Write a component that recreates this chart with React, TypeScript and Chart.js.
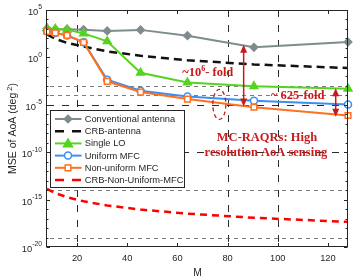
import React, { useEffect, useRef } from 'react';
import { Chart, registerables } from 'chart.js';

Chart.register(...registerables);

// ---------- data ----------
const M_VALUES = [8, 11.3, 16, 22.6, 32, 45.3, 64, 90.5, 128];
const CONVENTIONAL = [1050, 950, 950, 850, 620, 800, 195, 11.5, 42];
const CRB_ANTENNA = [270, 90, 34, 14, 4.3, 1.5, 0.5, 0.18, 0.075];
const SINGLE_LO = [1250, 1000, 850, 340, 50, 0.024, 0.0022, 0.0009, 0.0005];
const UNIFORM_MFC = [560, 380, 210, 39, 0.0044, 3e-4, 7.6e-5, 2.6e-5, 1.05e-5];
const NONUNIFORM_MFC = [560, 380, 210, 39, 0.003, 2.2e-4, 4e-5, 5.5e-6, 7.5e-7];
const CRB_NONUNIFORM = [1.35e-14, 4.9e-15, 1.8e-15, 6.6e-16, 2.4e-16, 8.9e-17, 3.3e-17, 1.2e-17, 4.5e-18];
const SERIES_NAMES = [
  'Conventional antenna',
  'CRB-antenna',
  'Single LO',
  'Uniform MFC',
  'Non-uniform MFC',
  'CRB-Non-Uniform-MFC',
];
const X_TICKS = [20, 40, 60, 80, 100, 120];
const Y_LABEL_EXPONENTS = [5, 0, -5, -10, -15, -20];
const X_LABEL = 'M';
const Y_LABEL = 'MSE of AoA (deg';
const GRID_X_DASHED = [20, 80, 100];
const GRID_Y_DASHED = [1e-5, 1e-10];
const GRID_Y_DOTTED = [1e-3, 1e-4, 1e-14, 1e-19];
const TEXT_FOLD_1 = ['~10', '6', '- fold'];
const TEXT_FOLD_2 = '~ 625-fold';
const TEXT_NOTE = ['MC-RAQRs: High', 'resolution AoA sensing'];

// ---------- styles ----------
const GRAY = '#7f8c8d';
const BLACK = '#111111';
const GREEN = '#55d41f';
const BLUE = '#3c8ff0';
const ORANGE = '#ff7020';
const RED = '#ff0000';
const ANN = '#c81a1a';
const SANS = '"Liberation Sans", Arial, sans-serif';
const SERIF = '"Liberation Serif", "Times New Roman", serif';
const AX = '#262626';

const SERIES = [
  { data: CONVENTIONAL, color: GRAY, fill: GRAY, dash: [] as number[], width: 2, style: 'rectRot', r: 3.8 },
  { data: CRB_ANTENNA, color: BLACK, fill: BLACK, dash: [8, 5], width: 2.5, style: 'none', r: 0 },
  { data: SINGLE_LO, color: GREEN, fill: GREEN, dash: [] as number[], width: 2, style: 'triangle', r: 4.5 },
  { data: UNIFORM_MFC, color: BLUE, fill: '#ffffff', dash: [] as number[], width: 2, style: 'circle', r: 3.5 },
  { data: NONUNIFORM_MFC, color: ORANGE, fill: '#ffffff', dash: [] as number[], width: 2, style: 'rect', r: 4 },
  { data: CRB_NONUNIFORM, color: RED, fill: RED, dash: [7, 5], width: 2.5, style: 'none', r: 0 },
];

function drawMarker(ctx: CanvasRenderingContext2D, style: string, x: number, y: number, r: number, stroke: string, fill: string) {
  ctx.save();
  ctx.setLineDash([]);
  ctx.lineWidth = 1.5;
  ctx.strokeStyle = stroke;
  ctx.fillStyle = fill;
  ctx.beginPath();
  if (style === 'rectRot') {
    ctx.moveTo(x, y - r); ctx.lineTo(x + r, y); ctx.lineTo(x, y + r); ctx.lineTo(x - r, y); ctx.closePath();
  } else if (style === 'triangle') {
    ctx.moveTo(x, y - r); ctx.lineTo(x + r, y + r * 0.75); ctx.lineTo(x - r, y + r * 0.75); ctx.closePath();
  } else if (style === 'circle') {
    ctx.arc(x, y, r, 0, Math.PI * 2);
  } else if (style === 'rect') {
    const h = r * Math.SQRT1_2;
    ctx.rect(x - h, y - h, 2 * h, 2 * h);
  } else {
    ctx.restore();
    return;
  }
  ctx.fill();
  ctx.stroke();
  ctx.restore();
}

function arrow(ctx: CanvasRenderingContext2D, x: number, y1: number, y2: number) {
  const hw = 3.5, hl = 8;
  ctx.save();
  ctx.setLineDash([]);
  ctx.strokeStyle = ANN;
  ctx.fillStyle = ANN;
  ctx.lineWidth = 1.5;
  ctx.beginPath();
  ctx.moveTo(x, y1 + hl - 1);
  ctx.lineTo(x, y2 - hl + 1);
  ctx.stroke();
  ctx.beginPath();
  ctx.moveTo(x, y1); ctx.lineTo(x + hw, y1 + hl); ctx.lineTo(x - hw, y1 + hl); ctx.closePath(); ctx.fill();
  ctx.beginPath();
  ctx.moveTo(x, y2); ctx.lineTo(x + hw, y2 - hl); ctx.lineTo(x - hw, y2 - hl); ctx.closePath(); ctx.fill();
  ctx.restore();
}

const matlabPlugin = {
  id: 'matlabAxes',
  beforeDatasetsDraw(chart: any) {
    const { ctx, chartArea: a } = chart;
    const x = chart.scales.x, y = chart.scales.y;
    ctx.save();
    ctx.lineWidth = 1;
    ctx.strokeStyle = 'rgba(20,20,20,0.9)';
    ctx.setLineDash([7, 8]);
    for (const v of GRID_X_DASHED) {
      const px = Math.round(x.getPixelForValue(v)) + 0.5;
      ctx.beginPath(); ctx.moveTo(px, a.top); ctx.lineTo(px, a.bottom); ctx.stroke();
    }
    for (const v of GRID_Y_DASHED) {
      const py = Math.round(y.getPixelForValue(v)) + 0.5;
      ctx.beginPath(); ctx.moveTo(a.left, py); ctx.lineTo(a.right, py); ctx.stroke();
    }
    ctx.strokeStyle = 'rgba(80,80,80,0.75)';
    ctx.setLineDash([4, 4]);
    for (const v of GRID_Y_DOTTED) {
      const py = Math.round(y.getPixelForValue(v)) + 0.5;
      ctx.beginPath(); ctx.moveTo(a.left + 3, py); ctx.lineTo(a.right, py); ctx.stroke();
    }
    ctx.restore();
  },
  afterDatasetsDraw(chart: any) {
    const { ctx, chartArea: a } = chart;
    const x = chart.scales.x, y = chart.scales.y;
    ctx.save();

    // ---- annotations ----
    arrow(ctx, x.getPixelForValue(86.4), y.getPixelForValue(22), y.getPixelForValue(6.6e-6));
    arrow(ctx, x.getPixelForValue(123.1), y.getPixelForValue(5.5e-4), y.getPixelForValue(5.4e-7));

    ctx.save();
    ctx.strokeStyle = ANN;
    ctx.lineWidth = 1.3;
    ctx.setLineDash([4, 3]);
    ctx.beginPath();
    ctx.ellipse(x.getPixelForValue(76.7), y.getPixelForValue(1.1e-5), 6.5, 15, 0, 0, Math.PI * 2);
    ctx.stroke();
    ctx.restore();

    ctx.fillStyle = ANN;
    ctx.textBaseline = 'middle';
    ctx.textAlign = 'left';
    const big = 'bold 12.5px ' + SERIF;
    const small = 'bold 8px ' + SERIF;
    let tx = x.getPixelForValue(61.9);
    const ty = y.getPixelForValue(0.024);
    ctx.font = big; ctx.fillText(TEXT_FOLD_1[0], tx, ty); tx += ctx.measureText(TEXT_FOLD_1[0]).width;
    ctx.font = small; ctx.fillText(TEXT_FOLD_1[1], tx, ty - 4); tx += ctx.measureText(TEXT_FOLD_1[1]).width;
    ctx.font = big; ctx.fillText(TEXT_FOLD_1[2], tx, ty);
    ctx.fillText(TEXT_FOLD_2, x.getPixelForValue(97.3), y.getPixelForValue(1e-4));
    ctx.textAlign = 'center';
    ctx.fillText(TEXT_NOTE[0], x.getPixelForValue(95.7), y.getPixelForValue(3.6e-9));
    ctx.fillText(TEXT_NOTE[1], x.getPixelForValue(95.3), y.getPixelForValue(8.3e-11));

    // ---- frame & ticks ----
    ctx.strokeStyle = AX;
    ctx.lineWidth = 1;
    ctx.setLineDash([]);
    const L = Math.round(a.left) - 0.5, R = Math.round(a.right) - 0.5;
    const T = Math.round(a.top) + 0.5, B = Math.round(a.bottom) - 0.5;
    ctx.strokeRect(L, T, R - L, B - T);
    ctx.beginPath();
    for (const v of X_TICKS) {
      const px = Math.round(x.getPixelForValue(v)) + 0.5;
      ctx.moveTo(px, B); ctx.lineTo(px, B - 3.5);
      ctx.moveTo(px, T); ctx.lineTo(px, T + 3.5);
    }
    for (let e = -20; e <= 5; e++) {
      const py = Math.round(y.getPixelForValue(Math.pow(10, e))) + 0.5;
      const len = e % 5 === 0 ? 3.5 : 2;
      ctx.moveTo(L, py); ctx.lineTo(L + len, py);
      ctx.moveTo(R, py); ctx.lineTo(R - len, py);
    }
    ctx.stroke();

    // ---- tick labels ----
    ctx.fillStyle = AX;
    ctx.textBaseline = 'middle';
    ctx.textAlign = 'center';
    ctx.font = '9.3px ' + SANS;
    for (const v of X_TICKS) {
      ctx.fillText(String(v), x.getPixelForValue(v), a.bottom + 11.5);
    }
    ctx.textAlign = 'right';
    for (const e of Y_LABEL_EXPONENTS) {
      const py = y.getPixelForValue(Math.pow(10, e));
      const right = a.left - 5;
      ctx.font = '6.8px ' + SANS;
      const sup = String(e);
      const sw = ctx.measureText(sup).width;
      ctx.fillText(sup, right, py - 2.5);
      ctx.font = '9.3px ' + SANS;
      ctx.fillText('10', right - sw, py + 2.5);
    }

    // ---- axis titles ----
    ctx.textAlign = 'center';
    ctx.font = '10.3px ' + SANS;
    ctx.fillText(X_LABEL, (a.left + a.right) / 2, a.bottom + 26);
    ctx.save();
    ctx.translate(13, (a.top + a.bottom) / 2);
    ctx.rotate(-Math.PI / 2);
    ctx.textAlign = 'left';
    ctx.font = '10.5px ' + SANS;
    const w1 = ctx.measureText(Y_LABEL).width;
    ctx.font = '7.5px ' + SANS;
    const w2 = ctx.measureText('2').width;
    ctx.font = '10.5px ' + SANS;
    const w3 = ctx.measureText(')').width;
    let sx = -(w1 + 2 + w2 + w3) / 2;
    ctx.fillText(Y_LABEL, sx, 0); sx += w1 + 2;
    ctx.font = '7.5px ' + SANS;
    ctx.fillText('2', sx, -3.5); sx += w2;
    ctx.font = '10.5px ' + SANS;
    ctx.fillText(')', sx, 0);
    ctx.restore();

    // ---- legend ----
    const lx = 50.5, ly = 110.5, lw = 134, lh = 77;
    ctx.fillStyle = '#ffffff';
    ctx.fillRect(lx, ly, lw, lh);
    ctx.strokeStyle = AX;
    ctx.lineWidth = 1;
    ctx.strokeRect(lx, ly, lw, lh);
    ctx.textAlign = 'left';
    ctx.textBaseline = 'middle';
    ctx.font = '9.3px ' + SANS;
    SERIES.forEach((s, i) => {
      const cy = 119 + i * 12.2;
      ctx.save();
      ctx.strokeStyle = s.color;
      ctx.lineWidth = s.width;
      ctx.setLineDash(s.dash.length ? [9, 8] : []);
      ctx.beginPath(); ctx.moveTo(55, cy); ctx.lineTo(81.5, cy); ctx.stroke();
      ctx.restore();
      drawMarker(ctx, s.style, 68, cy, s.r, s.color, s.fill);
      ctx.fillStyle = AX;
      ctx.fillText(SERIES_NAMES[i], 84.7, cy + 0.5);
    });

    ctx.restore();
  },
};

export default function App() {
  const ref = useRef<HTMLCanvasElement | null>(null);
  useEffect(() => {
    document.body.style.margin = '0';
    const canvas = ref.current;
    if (!canvas) return;
    const datasets = SERIES.map((s, i) => ({
      label: SERIES_NAMES[i],
      data: M_VALUES.map((m, j) => ({ x: m, y: s.data[j] })),
      borderColor: s.color,
      backgroundColor: s.fill,
      borderWidth: s.width,
      borderDash: s.dash,
      pointStyle: s.style === 'none' ? false : s.style,
      pointRadius: s.r,
      pointBorderWidth: 1.5,
      pointBorderColor: s.color,
      pointBackgroundColor: s.fill,
      tension: 0,
      clip: false as any,
      order: SERIES.length - i,
    }));
    const chart = new Chart(canvas, {
      type: 'line',
      data: { datasets: datasets as any },
      options: {
        responsive: false,
        animation: false,
        devicePixelRatio: 1,
        events: [],
        layout: { padding: { left: 47, right: 9, top: 10, bottom: 33 } },
        plugins: { legend: { display: false }, tooltip: { enabled: false } },
        scales: {
          x: { type: 'linear', min: 8, max: 128, display: false },
          y: { type: 'logarithmic', min: 1e-20, max: 1e5, display: false },
        },
      },
      plugins: [matlabPlugin as any],
    });
    return () => chart.destroy();
  }, []);
  return (
    <div style={{ width: 357, height: 280, background: '#fff' }}>
      <canvas ref={ref} width={357} height={280} />
    </div>
  );
}
